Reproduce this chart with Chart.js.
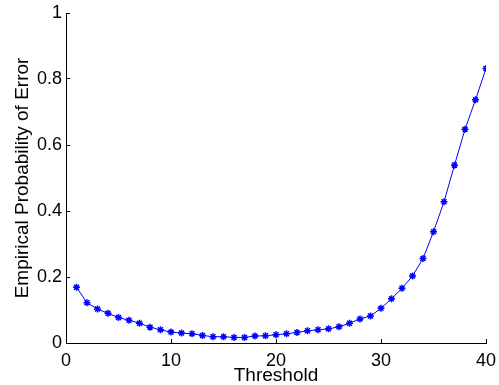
<!DOCTYPE html>
<html>
<head>
<meta charset="utf-8">
<script src="https://cdn.jsdelivr.net/npm/chart.js@4"></script>
<style>
  html, body { margin: 0; padding: 0; background: #fff; }
  #wrap { width: 499px; height: 385px; position: relative; }
</style>
</head>
<body>
<div id="wrap"><canvas id="errChart"></canvas></div>
<script>
const thresholds = [1, 2, 3, 4, 5, 6, 7, 8, 9, 10, 11, 12, 13, 14, 15, 16, 17, 18, 19, 20,
  21, 22, 23, 24, 25, 26, 27, 28, 29, 30, 31, 32, 33, 34, 35, 36, 37, 38, 39, 40];
const errorProb = [0.169, 0.122, 0.103, 0.090, 0.077, 0.069, 0.060, 0.048, 0.040, 0.033,
  0.030, 0.028, 0.023, 0.019, 0.019, 0.017, 0.017, 0.021, 0.022, 0.025,
  0.028, 0.032, 0.037, 0.040, 0.043, 0.049, 0.060, 0.073, 0.082, 0.105,
  0.134, 0.166, 0.203, 0.256, 0.337, 0.428, 0.539, 0.648, 0.737, 0.832];
const xTickLabels = ['0', '10', '20', '30', '40'];
const yTickLabels = ['0', '0.2', '0.4', '0.6', '0.8', '1'];

const FAMILY = "'Liberation Sans', Arial, Helvetica, sans-serif";
const TICK_FONT = { family: FAMILY, size: 18 };
const TITLE_FONT = { family: FAMILY, size: 19, lineHeight: 1 };
const BLUE = '#0000FF';

// drop the extra room chart.js reserves for the end labels
function noScalePadding(scale) {
  scale.paddingTop = 0;
  scale.paddingBottom = 0;
  scale.paddingLeft = 0;
  scale.paddingRight = 0;
}

const ctx = document.getElementById('errChart').getContext('2d');

new Chart(ctx, {
  type: 'line',
  data: {
    datasets: [{
      label: 'Error',
      data: thresholds.map((t, i) => ({ x: t, y: errorProb[i] })),
      borderColor: BLUE,
      backgroundColor: BLUE,
      borderWidth: 1,
      pointStyle: 'star',
      pointRadius: 3.5,
      pointBorderWidth: 1.5,
      pointBorderColor: BLUE,
      tension: 0,
      fill: false
    }]
  },
  options: {
    responsive: true,
    maintainAspectRatio: false,
    animation: false,
    layout: { padding: { top: 13, right: 13, left: 0, bottom: 0 } },
    plugins: {
      legend: { display: false },
      tooltip: { enabled: false }
    },
    scales: {
      x: {
        type: 'linear',
        min: 0,
        max: 40,
        afterFit: scale => {
          scale.height = 42;
          noScalePadding(scale);
        },
        grid: {
          drawOnChartArea: false,
          drawTicks: true,
          tickLength: -4,
          color: '#000',
          lineWidth: 1
        },
        border: { display: true, color: '#000', width: 1 },
        ticks: {
          stepSize: 10,
          padding: 11,
          color: '#000',
          font: TICK_FONT,
          maxRotation: 0,
          callback: (v, i) => xTickLabels[i]
        },
        title: {
          display: true,
          text: 'Threshold',
          color: '#000',
          font: TITLE_FONT,
          padding: { top: 0, bottom: 0 }
        }
      },
      y: {
        min: 0,
        max: 1,
        afterFit: scale => {
          scale.width = 66;
          noScalePadding(scale);
        },
        grid: {
          drawOnChartArea: false,
          drawTicks: true,
          tickLength: -4,
          color: '#000',
          lineWidth: 1
        },
        border: { display: true, color: '#000', width: 1 },
        ticks: {
          stepSize: 0.2,
          padding: 8,
          color: '#000',
          font: TICK_FONT,
          callback: (v, i) => yTickLabels[i]
        },
        title: {
          display: true,
          text: 'Empirical Probability of Error',
          color: '#000',
          font: TITLE_FONT,
          padding: { top: 13, bottom: 0 }
        }
      }
    }
  }
});
</script>
</body>
</html>
